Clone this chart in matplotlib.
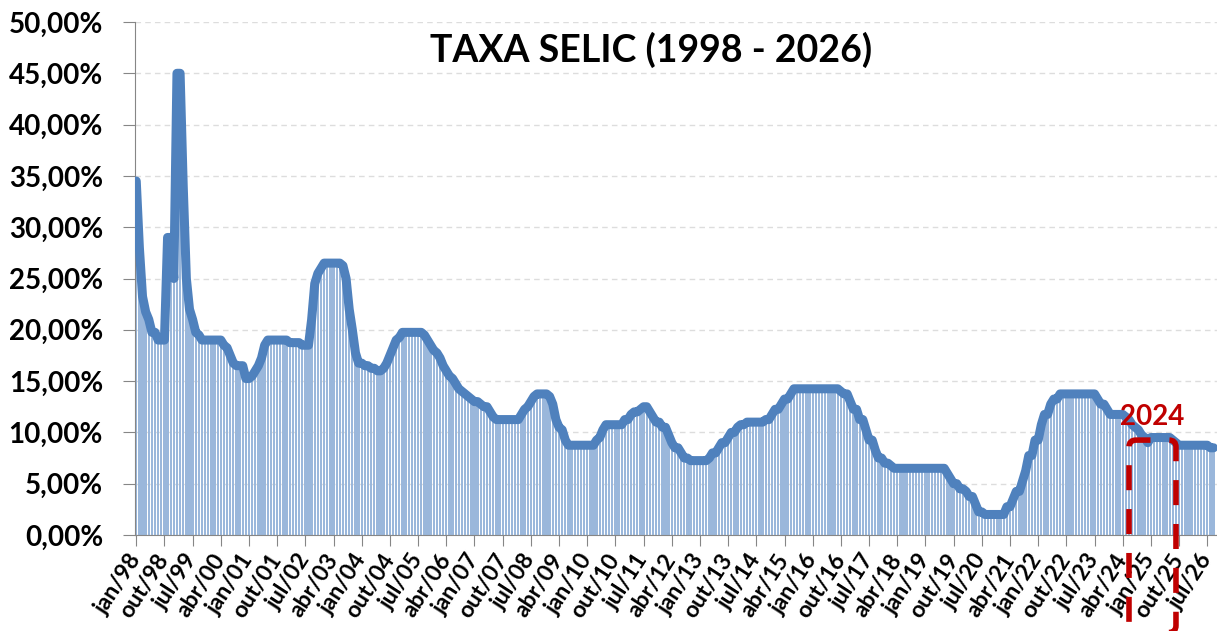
import numpy as np
import matplotlib.pyplot as plt
from matplotlib.patches import FancyBboxPatch
from matplotlib.transforms import IdentityTransform
from matplotlib.ticker import FuncFormatter

plt.rcParams['font.family'] = ['Lato', 'DejaVu Sans']
plt.rcParams['font.weight'] = 'bold'

# Meta Selic mensal (% a.a.), jan/98 a set/26
selic_1998 = [34.5, 28.0, 23.25, 21.75, 21.0, 19.75, 19.75, 19.0, 19.0, 19.0, 29.0, 29.0]
selic_1999 = [25.0, 45.0, 45.0, 34.0, 25.0, 22.0, 21.0, 19.75, 19.5, 19.0, 19.0, 19.0]
selic_2000 = [19.0, 19.0, 19.0, 19.0, 18.5, 18.25, 17.5, 16.75, 16.5, 16.5, 16.5, 15.25]
selic_2001 = [15.25, 15.5, 16.0, 16.5, 17.25, 18.5, 19.0, 19.0, 19.0, 19.0, 19.0, 19.0]
selic_2002 = [19.0, 18.75, 18.75, 18.75, 18.75, 18.5, 18.5, 18.5, 21.0, 24.5, 25.5, 26.0]
selic_2003 = [26.5, 26.5, 26.5, 26.5, 26.5, 26.5, 26.25, 25.0, 22.0, 20.0, 17.75, 16.75]
selic_2004 = [16.75, 16.5, 16.5, 16.25, 16.25, 16.0, 16.0, 16.25, 16.75, 17.5, 18.25, 19.0]
selic_2005 = [19.25, 19.75, 19.75, 19.75, 19.75, 19.75, 19.75, 19.75, 19.5, 19.0, 18.5, 18.0]
selic_2006 = [17.75, 17.25, 16.5, 16.0, 15.5, 15.25, 14.75, 14.25, 14.0, 13.75, 13.5, 13.25]
selic_2007 = [13.0, 13.0, 12.75, 12.5, 12.5, 12.0, 11.5, 11.25, 11.25, 11.25, 11.25, 11.25]
selic_2008 = [11.25, 11.25, 11.25, 11.75, 12.25, 12.5, 13.0, 13.5, 13.75, 13.75, 13.75, 13.75]
selic_2009 = [13.5, 12.75, 11.25, 10.5, 10.25, 9.25, 8.75, 8.75, 8.75, 8.75, 8.75, 8.75]
selic_2010 = [8.75, 8.75, 8.75, 9.25, 9.5, 10.25, 10.75, 10.75, 10.75, 10.75, 10.75, 10.75]
selic_2011 = [11.25, 11.25, 11.75, 12.0, 12.0, 12.25, 12.5, 12.5, 12.0, 11.5, 11.0, 11.0]
selic_2012 = [10.5, 10.5, 9.75, 9.0, 8.5, 8.5, 8.0, 7.5, 7.5, 7.25, 7.25, 7.25]
selic_2013 = [7.25, 7.25, 7.25, 7.5, 8.0, 8.0, 8.5, 9.0, 9.0, 9.5, 10.0, 10.0]
selic_2014 = [10.5, 10.75, 10.75, 11.0, 11.0, 11.0, 11.0, 11.0, 11.0, 11.25, 11.25, 11.75]
selic_2015 = [12.25, 12.25, 12.75, 13.25, 13.25, 13.75, 14.25, 14.25, 14.25, 14.25, 14.25, 14.25]
selic_2016 = [14.25, 14.25, 14.25, 14.25, 14.25, 14.25, 14.25, 14.25, 14.25, 14.0, 13.75, 13.75]
selic_2017 = [13.0, 12.25, 12.25, 11.25, 11.25, 10.25, 9.25, 9.25, 8.25, 7.5, 7.5, 7.0]
selic_2018 = [7.0, 6.75, 6.5, 6.5, 6.5, 6.5, 6.5, 6.5, 6.5, 6.5, 6.5, 6.5]
selic_2019 = [6.5, 6.5, 6.5, 6.5, 6.5, 6.5, 6.5, 6.0, 5.5, 5.0, 5.0, 4.5]
selic_2020 = [4.5, 4.25, 3.75, 3.75, 3.0, 2.25, 2.25, 2.0, 2.0, 2.0, 2.0, 2.0]
selic_2021 = [2.0, 2.0, 2.75, 2.75, 3.5, 4.25, 4.25, 5.25, 6.25, 7.75, 7.75, 9.25]
selic_2022 = [9.25, 10.75, 11.75, 11.75, 12.75, 13.25, 13.25, 13.75, 13.75, 13.75, 13.75, 13.75]
selic_2023 = [13.75, 13.75, 13.75, 13.75, 13.75, 13.75, 13.75, 13.25, 12.75, 12.75, 12.25, 11.75]
selic_2024 = [11.75, 11.75, 11.75, 11.75, 11.5, 11.25, 10.75, 10.5, 10.25, 9.75, 9.5, 9.0]
selic_2025 = [9.5, 9.5, 9.5, 9.5, 9.5, 9.5, 9.5, 9.25, 9.0, 8.75, 8.75, 8.75]
selic_2026 = [8.75, 8.75, 8.75, 8.75, 8.75, 8.75, 8.75, 8.5, 8.5]

meses = ['jan', 'fev', 'mar', 'abr', 'mai', 'jun', 'jul', 'ago', 'set', 'out', 'nov', 'dez']
ano_inicial = 1998
passo_rotulos = 9

# destaque em vermelho
destaque_ini = 'jun/24'
destaque_fim = 'set/25'
destaque_topo = 9.25
destaque_texto = '2024'

selic = (selic_1998 + selic_1999 + selic_2000 + selic_2001 + selic_2002 + selic_2003
         + selic_2004 + selic_2005 + selic_2006 + selic_2007 + selic_2008 + selic_2009
         + selic_2010 + selic_2011 + selic_2012 + selic_2013 + selic_2014 + selic_2015
         + selic_2016 + selic_2017 + selic_2018 + selic_2019 + selic_2020 + selic_2021
         + selic_2022 + selic_2023 + selic_2024 + selic_2025 + selic_2026)
n = len(selic)
x = np.arange(n)
rotulos = [f"{meses[i % 12]}/{(ano_inicial + i // 12) % 100:02d}" for i in range(n)]

fig = plt.figure(figsize=(12.17, 6.31), dpi=100)
ax = fig.add_axes([135 / 1217, 96 / 631, 1082 / 1217, 513 / 631])

ax.bar(x, selic, width=0.74, color='#9AB7DB', zorder=2)
ax.plot(x, selic, color='#4F81BD', lw=6.5, solid_joinstyle='round',
        solid_capstyle='round', zorder=3)

ax.set_xlim(-0.4, n + 0.1)
ax.set_ylim(0, 50)
ax.set_yticks(np.arange(0, 50.1, 5))
ax.yaxis.set_major_formatter(FuncFormatter(lambda v, p: f"{v:.2f}%".replace('.', ',')))
ax.grid(axis='y', color='#DDDDDD', linestyle=(0, (4, 3)), lw=1, zorder=0)
ax.set_axisbelow(True)

ticks = x[::passo_rotulos]
ax.set_xticks(ticks)
ax.set_xticklabels([rotulos[i] for i in ticks], rotation=57, ha='right', va='center',
                   rotation_mode='anchor', fontsize=16.5, fontweight='bold')
ax.tick_params(axis='x', length=8, color='#868686', pad=7)
ax.tick_params(axis='y', length=9, color='#868686', labelsize=20, pad=14)
for lab in ax.get_yticklabels():
    lab.set_fontweight('bold')

for s in ['top', 'right']:
    ax.spines[s].set_visible(False)
for s in ['left', 'bottom']:
    ax.spines[s].set_color('#868686')

fig.text(0.535, 0.921, 'TAXA SELIC (1998 - 2026)', ha='center', va='center',
         fontsize=27, fontweight='bold')

# retângulo tracejado de destaque (cantos arredondados, em pixels)
i0 = rotulos.index(destaque_ini)
i1 = rotulos.index(destaque_fim)
x0, y0 = ax.transData.transform((i0, destaque_topo))
x1, y1 = ax.transData.transform((i1, -9.5))
caixa = FancyBboxPatch((x0, y1), x1 - x0, y0 - y1,
                       boxstyle='round,pad=0,rounding_size=7',
                       transform=IdentityTransform(), fill=False,
                       edgecolor='#C00000', lw=4, linestyle=(0, (4.5, 3.4)),
                       zorder=5)
fig.add_artist(caixa)
ax.text((i0 + i1) / 2, destaque_topo + 1.0, destaque_texto, color='#C00000',
        fontsize=20, fontweight='bold', ha='center', va='bottom', zorder=6)

fig.savefig('out.png', dpi=100)
